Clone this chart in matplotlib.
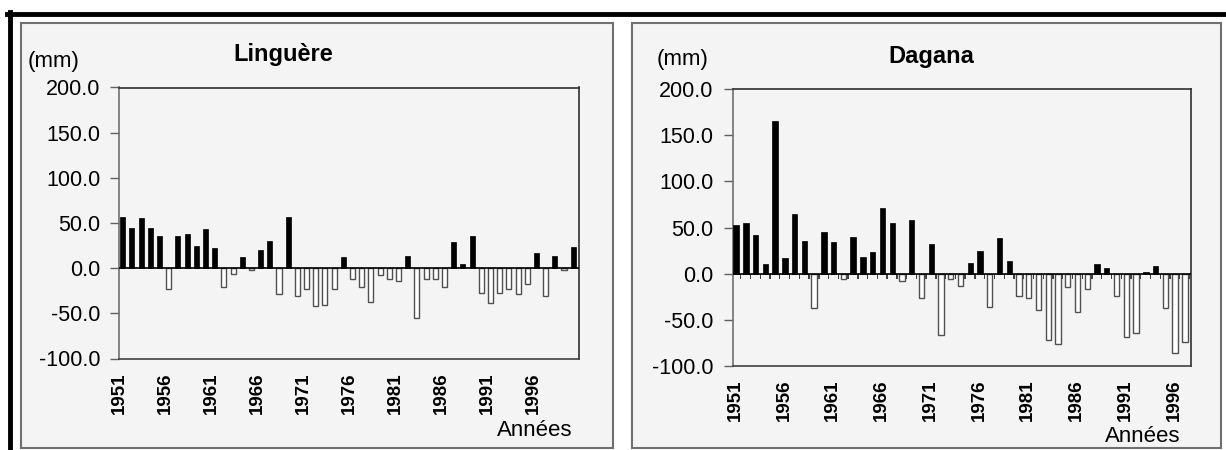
import numpy as np
import matplotlib.pyplot as plt
import matplotlib.patches as mpatches
from matplotlib.lines import Line2D

# rainfall anomalies (mm)
years_lin = list(range(1951, 2001))
lin_vals = [57, 44, 56, 45, 36, -23, 36, 38, 25, 43,
            22, -21, -7, 12, -2, 20, 30, -29, 57, -31,
            -23, -42, -41, -23, 12, -12, -21, -38, -8, -12,
            -14, 13, -55, -12, -12, -21, 29, 5, 36, -27,
            -39, -27, -23, -29, -17, 17, -31, 13, -2, 23]

years_dag = list(range(1951, 1998))
dag_vals = [53, 55, 42, 10, 166, 17, 65, 35, -37, 45,
            34, -6, 40, 18, 23, 71, 55, -8, 58, -27,
            32, -67, -6, -13, 12, 24, -36, 39, 14, -24,
            -26, -40, -72, -76, -15, -42, -17, 10, 6, -24,
            -69, -65, 2, 8, -37, -86, -74]

tick_years = [1951, 1956, 1961, 1966, 1971, 1976, 1981, 1986, 1991, 1996]
ytick_vals = [-100, -50, 0, 50, 100, 150, 200]

W, H = 1226, 450
bg = '#f4f4f4'
font = ['Liberation Sans', 'DejaVu Sans']
narrow = ['Liberation Sans Narrow', 'Liberation Sans', 'DejaVu Sans']

fig = plt.figure(figsize=(W / 100, H / 100), dpi=100)
fig.patch.set_facecolor('white')


def box(x0, y0, x1, y1):
    # figure-level rectangle given in pixels (top-left origin)
    r = mpatches.Rectangle((x0 / W, 1 - y1 / H), (x1 - x0) / W, (y1 - y0) / H,
                           transform=fig.transFigure, facecolor=bg,
                           edgecolor='#707070', linewidth=1.5, zorder=-2)
    fig.add_artist(r)


box(20.5, 23, 613, 448)
box(631.5, 23, 1221, 448)

# thick black frame (top and left)
fig.add_artist(Line2D([7 / W, 1], [1 - 14 / H, 1 - 14 / H], transform=fig.transFigure,
                      color='black', linewidth=3.5, zorder=-1))
fig.add_artist(Line2D([9.5 / W, 9.5 / W], [0, 1 - 12 / H], transform=fig.transFigure,
                      color='black', linewidth=3.5, zorder=-1))


def draw(rect, years, vals, stub_h, stub_col, lab_off):
    ax = fig.add_axes(rect)
    ax.set_facecolor(bg)
    x = np.arange(len(years))
    v = np.array(vals, dtype=float)
    pos = v >= 0
    ax.bar(x + 0.48, np.full(len(x), stub_h), width=0.14, color=stub_col,
           linewidth=0, zorder=2)
    ax.bar(x[pos], v[pos], width=0.55, color='black', edgecolor='black',
           linewidth=0.5, zorder=3)
    ax.bar(x[~pos], v[~pos], width=0.55, color='white', edgecolor='#505050',
           linewidth=1.0, zorder=3)
    ax.axhline(0, color='black', linewidth=1.2, zorder=4)

    ax.set_xlim(-0.37, len(years) - 0.37)
    ax.set_ylim(-100, 200)
    ax.set_yticks(ytick_vals)
    ax.set_yticklabels([f'{t:.1f}' for t in ytick_vals], family=font, fontsize=15.5)
    ax.set_xticks([years.index(y) + lab_off for y in tick_years])
    ax.set_xticklabels([str(y) for y in tick_years], family=narrow,
                       fontweight='bold', fontsize=13.5, rotation=90)
    ax.tick_params(axis='x', length=0, pad=10)
    ax.tick_params(axis='y', length=6.5, width=1, pad=7, color='#606060')
    for s in ['top', 'right']:
        ax.spines[s].set_color('#303030')
    ax.spines['left'].set_color('#707070')
    ax.spines['bottom'].set_color('#404040')
    for s in ax.spines.values():
        s.set_linewidth(1.2)
    return ax


draw([119.3 / W, 1 - 358.5 / H, 459.7 / W, 271 / H], years_lin, lin_vals, 1.8, '#9a9a9a', -0.37)
draw([732.5 / W, 1 - 365.7 / H, 458.5 / W, 276.4 / H], years_dag, dag_vals, -6, '#404040', -0.1)

fig.text(28 / W, 1 - 62 / H, '(mm)', family=font, fontsize=16, va='center', ha='left')
fig.text(283 / W, 1 - 55 / H, 'Linguère', family=font, fontsize=17, fontweight='bold',
         va='center', ha='center')
fig.text(572 / W, 1 - 430 / H, 'Années', family=font, fontsize=16, va='center', ha='right')

fig.text(657 / W, 1 - 60 / H, '(mm)', family=font, fontsize=16, va='center', ha='left')
fig.text(931 / W, 1 - 57 / H, 'Dagana', family=font, fontsize=17, fontweight='bold',
         va='center', ha='center')
fig.text(1180 / W, 1 - 436 / H, 'Années', family=font, fontsize=16, va='center', ha='right')

fig.savefig('out.png', dpi=100)
